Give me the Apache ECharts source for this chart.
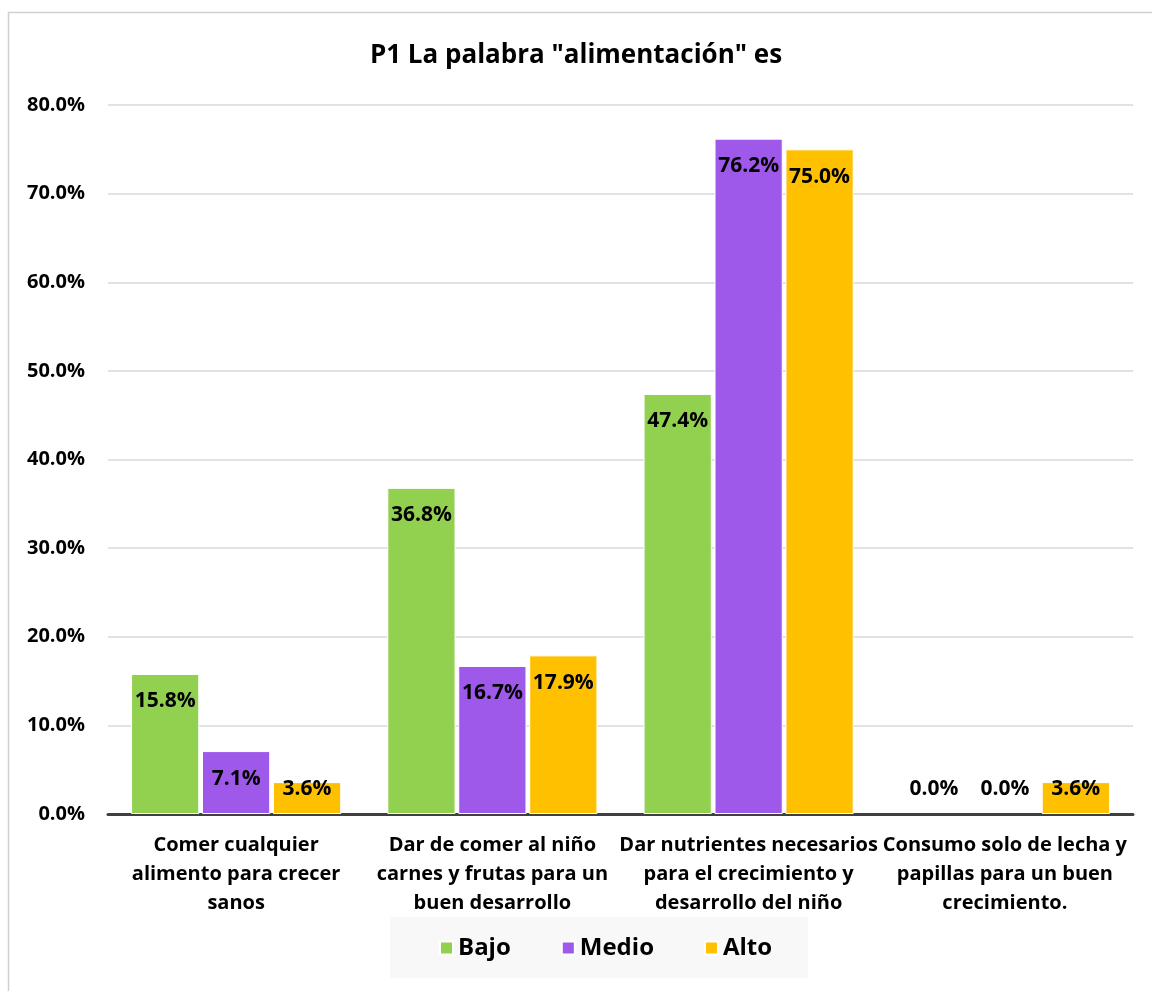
<!DOCTYPE html>
<html>
<head>
<meta charset="utf-8">
<script src="https://cdn.jsdelivr.net/npm/echarts@6/dist/echarts.min.js"></script>
<style>
  html, body { margin: 0; padding: 0; background: #fff; }
  #main { width: 1152px; height: 991px; }
</style>
</head>
<body>
<div id="main"></div>
<script>
// categorias del eje x
var categories = [
  'Comer cualquier\nalimento para crecer\nsanos',
  'Dar de comer al niño\ncarnes y frutas para un\nbuen desarrollo',
  'Dar nutrientes necesarios\npara el crecimiento y\ndesarrollo del niño',
  'Consumo solo de lecha y\npapillas para un buen\ncrecimiento.'
];
var seriesNames = ['Bajo', 'Medio', 'Alto'];
var bajo = [15.8, 36.8, 47.4, 0.0];
var medio = [7.1, 16.7, 76.2, 0.0];
var alto = [3.6, 17.9, 75.0, 3.6];
var yTicks = [0, 10, 20, 30, 40, 50, 60, 70, 80];

var colors = ['#92d050', '#9f59ea', '#ffc000'];
var font = '"Open Sans", "Noto Sans", sans-serif';

// barras pequeñas: etiqueta encima de la linea base
function buildData(values) {
  return values.map(function (v) {
    if (v < 5) {
      return {
        value: v,
        itemStyle: v === 0 ? { borderWidth: 0 } : undefined,
        label: { position: 'insideBottom', distance: 14 }
      };
    }
    return v;
  });
}

var myChart = echarts.init(document.getElementById('main'));

myChart.setOption({
  backgroundColor: '#ffffff',
  animation: false,
  graphic: [
    {
      type: 'rect',
      shape: { x: 8.5, y: 12.5, width: 1160, height: 1000 },
      style: { fill: 'none', stroke: '#d0d0d0', lineWidth: 1.5 },
      z: -10
    },
    {
      type: 'rect',
      shape: { x: 390, y: 917, width: 418, height: 61 },
      style: { fill: '#f8f8f8' },
      z: -5
    }
  ],
  title: {
    text: 'P1 La palabra "alimentación" es',
    left: 'center',
    top: 38,
    textStyle: { fontFamily: font, fontSize: 26, fontWeight: 'bold', color: '#000' }
  },
  legend: {
    data: seriesNames,
    left: 434,
    top: 931,
    itemWidth: 13,
    itemHeight: 13,
    itemGap: 50,
    icon: 'rect',
    textStyle: { fontFamily: font, fontSize: 24, fontWeight: 'bold', color: '#000' }
  },
  grid: { left: 108, right: 19, top: 105, bottom: 177 },
  xAxis: {
    type: 'category',
    data: categories,
    axisLine: { lineStyle: { color: '#404040', width: 3 } },
    axisTick: { show: false },
    axisLabel: {
      interval: 0,
      margin: 17,
      lineHeight: 29,
      fontFamily: font,
      fontSize: 20,
      fontWeight: 'bold',
      color: '#000'
    }
  },
  yAxis: {
    type: 'value',
    min: yTicks[0],
    max: yTicks[yTicks.length - 1],
    interval: yTicks[1] - yTicks[0],
    axisLine: { show: false },
    axisTick: { show: false },
    splitLine: { lineStyle: { color: '#d9d9d9', width: 1.5 } },
    axisLabel: {
      margin: 23,
      fontFamily: font,
      fontSize: 20,
      fontWeight: 'bold',
      color: '#000',
      formatter: function (v) { return v.toFixed(1) + '%'; }
    }
  },
  series: [bajo, medio, alto].map(function (vals, i) {
    return {
      name: seriesNames[i],
      type: 'bar',
      data: buildData(vals),
      barGap: '4%',
      barCategoryGap: '18%',
      itemStyle: { color: colors[i], borderColor: '#fff', borderWidth: 1 },
      label: {
        show: true,
        position: 'insideTop',
        distance: 17,
        fontFamily: font,
        fontSize: 21,
        fontWeight: 'bold',
        color: '#000',
        formatter: function (p) { return p.value.toFixed(1) + '%'; }
      }
    };
  })
});
</script>
</body>
</html>
